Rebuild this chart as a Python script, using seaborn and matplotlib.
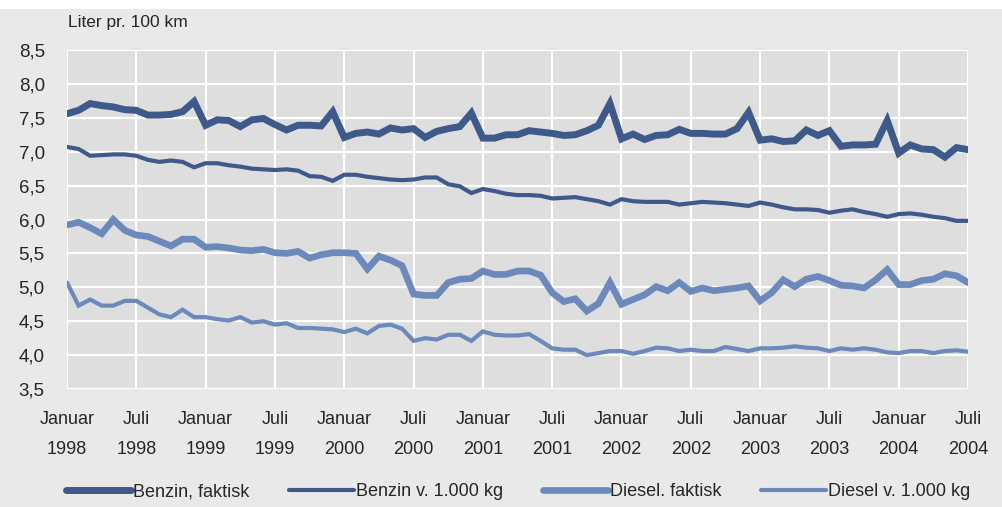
import matplotlib
matplotlib.use("Agg")
import matplotlib.pyplot as plt
import seaborn as sns
import pandas as pd

# Monthly values, Jan 1998 - Jul 2004 (liter pr. 100 km)
benzin_faktisk = [7.56, 7.61, 7.71, 7.68, 7.66, 7.62, 7.61, 7.54, 7.54, 7.55, 7.59, 7.74,
                  7.39, 7.47, 7.46, 7.37, 7.47, 7.49, 7.40, 7.32, 7.39, 7.39, 7.38, 7.59,
                  7.21, 7.27, 7.29, 7.26, 7.35, 7.32, 7.34, 7.21, 7.30, 7.34, 7.37, 7.57,
                  7.20, 7.20, 7.25, 7.25, 7.31, 7.29, 7.27, 7.24, 7.25, 7.31, 7.39, 7.71,
                  7.19, 7.26, 7.18, 7.24, 7.25, 7.33, 7.27, 7.27, 7.26, 7.26, 7.34, 7.58,
                  7.17, 7.19, 7.15, 7.16, 7.32, 7.24, 7.31, 7.08, 7.10, 7.10, 7.11, 7.46,
                  6.98, 7.10, 7.04, 7.03, 6.92, 7.06, 7.03]
benzin_1000 = [7.07, 7.04, 6.94, 6.95, 6.96, 6.96, 6.94, 6.88, 6.85, 6.87, 6.85, 6.77,
               6.83, 6.83, 6.80, 6.78, 6.75, 6.74, 6.73, 6.74, 6.72, 6.64, 6.63, 6.57,
               6.66, 6.66, 6.63, 6.61, 6.59, 6.58, 6.59, 6.62, 6.62, 6.52, 6.49, 6.39,
               6.45, 6.42, 6.38, 6.36, 6.36, 6.35, 6.31, 6.32, 6.33, 6.30, 6.27, 6.22,
               6.30, 6.27, 6.26, 6.26, 6.26, 6.22, 6.24, 6.26, 6.25, 6.24, 6.22, 6.20,
               6.25, 6.22, 6.18, 6.15, 6.15, 6.14, 6.10, 6.13, 6.15, 6.11, 6.08, 6.04,
               6.08, 6.09, 6.07, 6.04, 6.02, 5.98, 5.98]
diesel_faktisk = [5.92, 5.96, 5.88, 5.79, 6.00, 5.84, 5.77, 5.75, 5.68, 5.61, 5.71, 5.71,
                  5.59, 5.60, 5.58, 5.55, 5.54, 5.56, 5.51, 5.50, 5.53, 5.43, 5.48, 5.51,
                  5.51, 5.50, 5.27, 5.46, 5.40, 5.32, 4.90, 4.88, 4.88, 5.07, 5.12, 5.13,
                  5.24, 5.19, 5.19, 5.24, 5.24, 5.18, 4.92, 4.79, 4.83, 4.65, 4.76, 5.07,
                  4.75, 4.82, 4.89, 5.01, 4.95, 5.07, 4.94, 4.99, 4.95, 4.97, 4.99, 5.02,
                  4.80, 4.92, 5.11, 5.01, 5.12, 5.16, 5.10, 5.03, 5.02, 4.99, 5.11, 5.26,
                  5.04, 5.04, 5.10, 5.12, 5.20, 5.17, 5.07]
diesel_1000 = [5.07, 4.73, 4.82, 4.73, 4.73, 4.80, 4.80, 4.70, 4.60, 4.56, 4.67, 4.56,
               4.56, 4.53, 4.51, 4.56, 4.48, 4.50, 4.45, 4.47, 4.40, 4.40, 4.39, 4.38,
               4.34, 4.39, 4.32, 4.43, 4.45, 4.39, 4.21, 4.25, 4.23, 4.30, 4.30, 4.21,
               4.35, 4.30, 4.29, 4.29, 4.31, 4.21, 4.10, 4.08, 4.08, 4.00, 4.03, 4.06,
               4.06, 4.02, 4.06, 4.11, 4.10, 4.06, 4.08, 4.06, 4.06, 4.12, 4.09, 4.06,
               4.10, 4.10, 4.11, 4.13, 4.11, 4.10, 4.06, 4.10, 4.08, 4.10, 4.08, 4.04,
               4.03, 4.06, 4.06, 4.03, 4.06, 4.07, 4.05]

series_names = ["Benzin, faktisk", "Benzin v. 1.000 kg", "Diesel. faktisk", "Diesel v. 1.000 kg"]
years = list(range(1998, 2005))
tick_labels = []
for y in years:
    tick_labels.append(f"Januar\n{y}")
    tick_labels.append(f"Juli\n{y}")
tick_labels = tick_labels[:14]

months = list(range(len(benzin_faktisk)))
df = pd.DataFrame({
    "month": months * 4,
    "value": benzin_faktisk + benzin_1000 + diesel_faktisk + diesel_1000,
    "series": sum([[n] * len(months) for n in series_names], []),
})

dark = "#3e5a8b"
light = "#6b89bb"
colors = {series_names[0]: dark, series_names[1]: dark,
          series_names[2]: light, series_names[3]: light}
widths = {series_names[0]: 5.0, series_names[1]: 3.0,
          series_names[2]: 4.8, series_names[3]: 3.0}

sns.set_style("whitegrid")
plt.rcParams["font.family"] = ["Liberation Sans Narrow", "Liberation Sans", "DejaVu Sans"]

fig = plt.figure(figsize=(10.02, 5.07), dpi=100, facecolor="#e9e9e9")
ax = fig.add_axes([0.0669, 0.2327, 0.8992, 0.6687])
ax.set_facecolor("#dedede")

for name in series_names:
    sns.lineplot(data=df[df["series"] == name], x="month", y="value",
                 color=colors[name], linewidth=widths[name], label=name,
                 ax=ax, solid_joinstyle="miter", solid_capstyle="butt")

ax.set_xlim(0, 78)
ax.set_ylim(3.5, 8.5)
ax.set_xticks(range(0, 79, 6))
ax.set_xticklabels(tick_labels, fontsize=13, linespacing=1.95)
yticks = [3.5 + 0.5 * k for k in range(11)]
ax.set_yticks(yticks)
ax.set_yticklabels([f"{t:.1f}".replace(".", ",") for t in yticks], fontsize=13.5)
ax.tick_params(axis="x", length=0, pad=16)
ax.tick_params(axis="y", length=0, pad=16)
ax.grid(True, color="white", linewidth=1.6)
for s in ax.spines.values():
    s.set_visible(False)
ax.set_xlabel("")
ax.set_ylabel("")

fig.text(0.068, 0.955, "Liter pr. 100 km", fontsize=12.5, va="center", ha="left")

# white strip at the top where the clipped title sits
fig.patches.append(plt.Rectangle((0, 0.982), 1, 0.02, transform=fig.transFigure,
                                 facecolor="white", edgecolor="none"))

ax.get_legend().remove()
handles, labels = ax.get_legend_handles_labels()
for h in handles:
    h.set_solid_capstyle("round")
fig.legend(handles, labels, loc="center", bbox_to_anchor=(0.517, 0.03), ncol=4,
           frameon=False, fontsize=13, handlelength=3.6, handletextpad=0.1,
           columnspacing=2.2)

fig.savefig("out.png", dpi=100, facecolor=fig.get_facecolor())
